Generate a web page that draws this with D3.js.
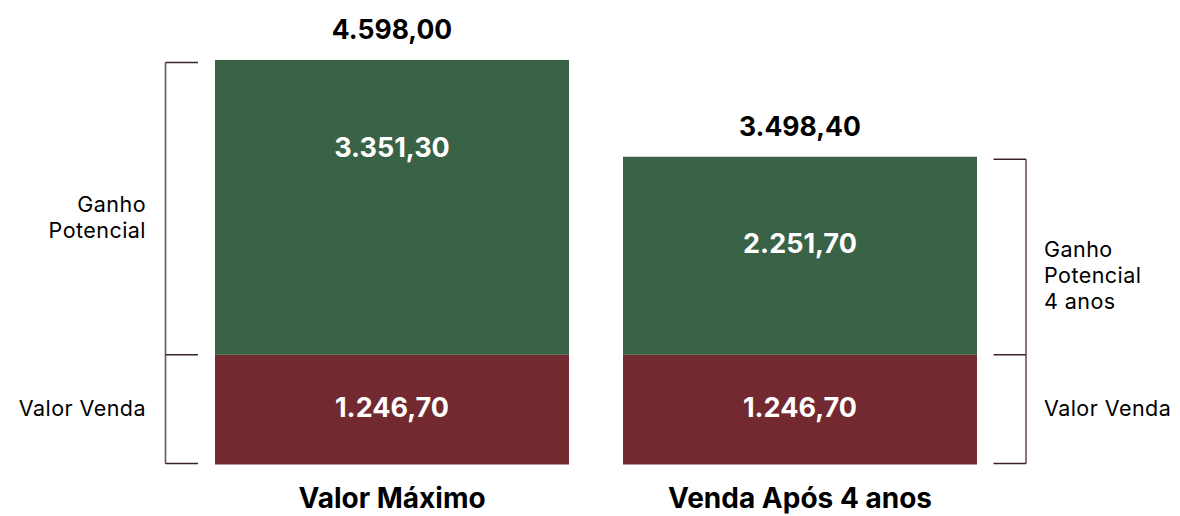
<!DOCTYPE html>
<html>
<head>
<meta charset="utf-8">
<script src="https://cdn.jsdelivr.net/npm/d3@7"></script>
<style>
  html, body { margin: 0; padding: 0; background: #fff; }
  svg { display: block; font-family: Inter, "Noto Sans", sans-serif; }
</style>
</head>
<body>
<svg id="chart" width="1180" height="516"></svg>
<script>
const categories = ["Valor Máximo", "Venda Após 4 anos"];
const valorVenda = [1246.70, 1246.70];
const ganhoPotencial = [3351.30, 2251.70];
const totals = [4598.00, 3498.40];
const leftLabels = [["Ganho", "Potencial"], ["Valor Venda"]];
const rightLabels = [["Ganho", "Potencial", "4 anos"], ["Valor Venda"]];

const fmtN = v => {
  const [i, d] = v.toFixed(2).split(".");
  return i.replace(/\B(?=(\d{3})+(?!\d))/g, ".") + "," + d;
};

const svg = d3.select("#chart");
const green = "#3a6247", maroon = "#72292f", bracketCol = "#6e5357";

const x = d3.scaleBand().domain(categories).range([174.2, 1017.8])
  .paddingInner(0.13235).paddingOuter(0.1);
const y = d3.scaleLinear().domain([0, d3.max(totals)]).range([464.5, 60]);

const data = categories.map((c, i) => ({c, vv: valorVenda[i], gp: ganhoPotencial[i], t: totals[i]}));

// bars
const g = svg.append("g");
g.selectAll("rect.vv").data(data).join("rect")
  .attr("x", d => x(d.c)).attr("width", x.bandwidth())
  .attr("y", d => y(d.vv)).attr("height", d => y(0) - y(d.vv))
  .attr("fill", maroon);
g.selectAll("rect.gp").data(data).join("rect")
  .attr("x", d => x(d.c)).attr("width", x.bandwidth())
  .attr("y", d => y(d.vv + d.gp)).attr("height", d => y(d.vv) - y(d.vv + d.gp))
  .attr("fill", green);

// labels inside
g.selectAll("text.gpl").data(data).join("text")
  .attr("x", d => x(d.c) + x.bandwidth() / 2)
  .attr("y", d => y(d.vv + d.gp) + 96.5)
  .attr("text-anchor", "middle").attr("fill", "#fff")
  .attr("font-size", 27).attr("font-weight", 700)
  .text(d => fmtN(d.gp));
g.selectAll("text.vvl").data(data).join("text")
  .attr("x", d => x(d.c) + x.bandwidth() / 2)
  .attr("y", d => (y(0) + y(d.vv)) / 2 + 7.5)
  .attr("text-anchor", "middle").attr("fill", "#fff")
  .attr("font-size", 27).attr("font-weight", 700)
  .text(d => fmtN(d.vv));
// totals
g.selectAll("text.tl").data(data).join("text")
  .attr("x", d => x(d.c) + x.bandwidth() / 2)
  .attr("y", d => y(d.t) - 21)
  .attr("text-anchor", "middle").attr("fill", "#000")
  .attr("font-size", 26.5).attr("font-weight", 700)
  .text(d => fmtN(d.t));

// category axis
const axis = svg.append("g").attr("transform", `translate(0,${y(0)})`)
  .call(d3.axisBottom(x).tickSize(0).tickPadding(0));
axis.select(".domain").remove();
axis.selectAll("text").attr("font-family", "Inter, sans-serif")
  .attr("font-size", 28).attr("font-weight", 700).attr("fill", "#000")
  .attr("dy", null).attr("y", 43.5);

// brackets
function bracket(xv, tickDir, segments, labels, anchor, textX) {
  const bg = svg.append("g").attr("stroke", bracketCol).attr("stroke-width", 1.6).attr("fill", "none");
  const ys = segments.flat();
  const top = d3.min(ys), bot = d3.max(ys);
  bg.append("line").attr("x1", xv).attr("x2", xv).attr("y1", top).attr("y2", bot);
  const ticks = Array.from(new Set(ys));
  bg.selectAll("line.t").data(ticks).join("line")
    .attr("x1", xv).attr("x2", xv + tickDir * 32.5).attr("y1", d => d).attr("y2", d => d)
    .attr("stroke", "#3d2326");
  segments.forEach((s, i) => {
    const lines = labels[i];
    const n = lines.length, lh = 26;
    const c = (s[0] + s[1]) / 2;
    const first = c - (n - 1) * lh / 2 + 6.5 + (n - 1) * 9.5;
    const t = svg.append("text").attr("text-anchor", anchor)
      .attr("font-size", 21.5).attr("letter-spacing", 0.45).attr("fill", "#000");
    lines.forEach((ln, j) => t.append("tspan").attr("x", textX).attr("y", first + j * lh).text(ln));
  });
}
const d0 = data[0], d1 = data[1];
bracket(x(d0.c) - 49.5, 1,
  [[y(d0.t) + 2.5, y(d0.vv)], [y(d0.vv), y(0) - 1]],
  leftLabels, "end", 146);
bracket(x(d1.c) + x.bandwidth() + 49, -1,
  [[y(d1.t) + 2.5, y(d1.vv)], [y(d1.vv), y(0) - 1]],
  rightLabels, "start", 1044);
</script>
</body>
</html>
